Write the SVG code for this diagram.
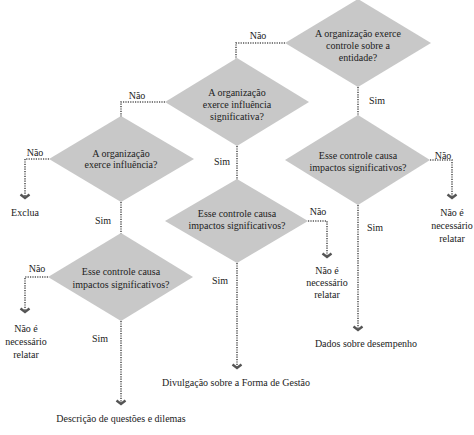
<svg xmlns="http://www.w3.org/2000/svg" width="474" height="435" viewBox="0 0 474 435">
<style>
.d{fill:#c8c8c8;stroke:none}
.t{font-family:"Liberation Serif","Times New Roman","DejaVu Serif",serif;font-size:10px;fill:#222;text-anchor:middle}
.c{fill:none;stroke:#555;stroke-width:1.6;stroke-dasharray:1.2 1.2}
</style>
<defs>
<marker id="ch" markerUnits="userSpaceOnUse" markerWidth="14" markerHeight="14" viewBox="-7 -7 14 14" refX="0" refY="0" orient="auto" overflow="visible">
<path d="M-3.5,-4.5 L0,0 L-3.5,4.5" fill="none" stroke="#555" stroke-width="2.4"/>
</marker>
</defs>
<rect width="474" height="435" fill="#fff"/>
<g id="connectors">
<path class="c" d="M285,43 H236 V80" marker-end="url(#ch)"/>
<path class="c" d="M358,87 V134" marker-end="url(#ch)"/>
<path class="c" d="M165,102 H121 V140" marker-end="url(#ch)"/>
<path class="c" d="M237,146 V191" marker-end="url(#ch)"/>
<path class="c" d="M49,159 H25 V198" marker-end="url(#ch)"/>
<path class="c" d="M121,202 V250" marker-end="url(#ch)"/>
<path class="c" d="M308,221 H327 V257" marker-end="url(#ch)"/>
<path class="c" d="M237,263 V368" marker-end="url(#ch)"/>
<path class="c" d="M430,160 H452 V198" marker-end="url(#ch)"/>
<path class="c" d="M358,205 V330" marker-end="url(#ch)"/>
<path class="c" d="M48,277 H25 V312" marker-end="url(#ch)"/>
<path class="c" d="M121,321 V404" marker-end="url(#ch)"/>
<text class="t" x="258" y="39">Não</text>
<text class="t" x="377" y="104">Sim</text>
<text class="t" x="137" y="99">Não</text>
<text class="t" x="222" y="165">Sim</text>
<text class="t" x="35" y="156">Não</text>
<text class="t" x="103" y="224">Sim</text>
<text class="t" x="318" y="215">Não</text>
<text class="t" x="220" y="284">Sim</text>
<text class="t" x="443" y="159">Não</text>
<text class="t" x="375" y="231">Sim</text>
<text class="t" x="37" y="272">Não</text>
<text class="t" x="100" y="342">Sim</text>
</g>
<g id="d1">
<polygon class="d" points="358,-1 431,43 358,87 285,43"/>
<text class="t" x="358" y="37">A organização exerce</text>
<text class="t" x="358" y="49">controle sobre a</text>
<text class="t" x="358" y="61">entidade?</text>
</g>
<g id="d2">
<polygon class="d" points="237,58 309,102 237,146 165,102"/>
<text class="t" x="237" y="96">A organização</text>
<text class="t" x="237" y="108">exerce influência</text>
<text class="t" x="237" y="120">significativa?</text>
</g>
<g id="d3">
<polygon class="d" points="121,116 194,159 121,202 49,159"/>
<text class="t" x="121" y="157">A organização</text>
<text class="t" x="121" y="168">exerce influência?</text>
</g>
<g id="d4">
<polygon class="d" points="237,179 308,221 237,263 165,221"/>
<text class="t" x="237" y="217">Esse controle causa</text>
<text class="t" x="237" y="229">impactos significativos?</text>
</g>
<g id="d5">
<polygon class="d" points="358,115 430,160 358,205 285,160"/>
<text class="t" x="358" y="159">Esse controle causa</text>
<text class="t" x="358" y="171">impactos significativos?</text>
</g>
<g id="d6">
<polygon class="d" points="121,233 193,277 121,321 48,277"/>
<text class="t" x="121" y="275">Esse controle causa</text>
<text class="t" x="121" y="288">impactos significativos?</text>
</g>
<g id="exclua"><text class="t" x="25" y="216">Exclua</text></g>
<g id="nr1">
<text class="t" x="327" y="274">Não é</text>
<text class="t" x="327" y="286">necessário</text>
<text class="t" x="327" y="298">relatar</text>
</g>
<g id="nr2">
<text class="t" x="452" y="216">Não é</text>
<text class="t" x="452" y="229">necessário</text>
<text class="t" x="452" y="242">relatar</text>
</g>
<g id="nr3">
<text class="t" x="26" y="332">Não é</text>
<text class="t" x="26" y="345">necessário</text>
<text class="t" x="26" y="358">relatar</text>
</g>
<g id="dados"><text class="t" x="366" y="347">Dados sobre desempenho</text></g>
<g id="divulg"><text class="t" x="236" y="386">Divulgação sobre a Forma de Gestão</text></g>
<g id="descr"><text class="t" x="121" y="422">Descrição de questões e dilemas</text></g>
</svg>
